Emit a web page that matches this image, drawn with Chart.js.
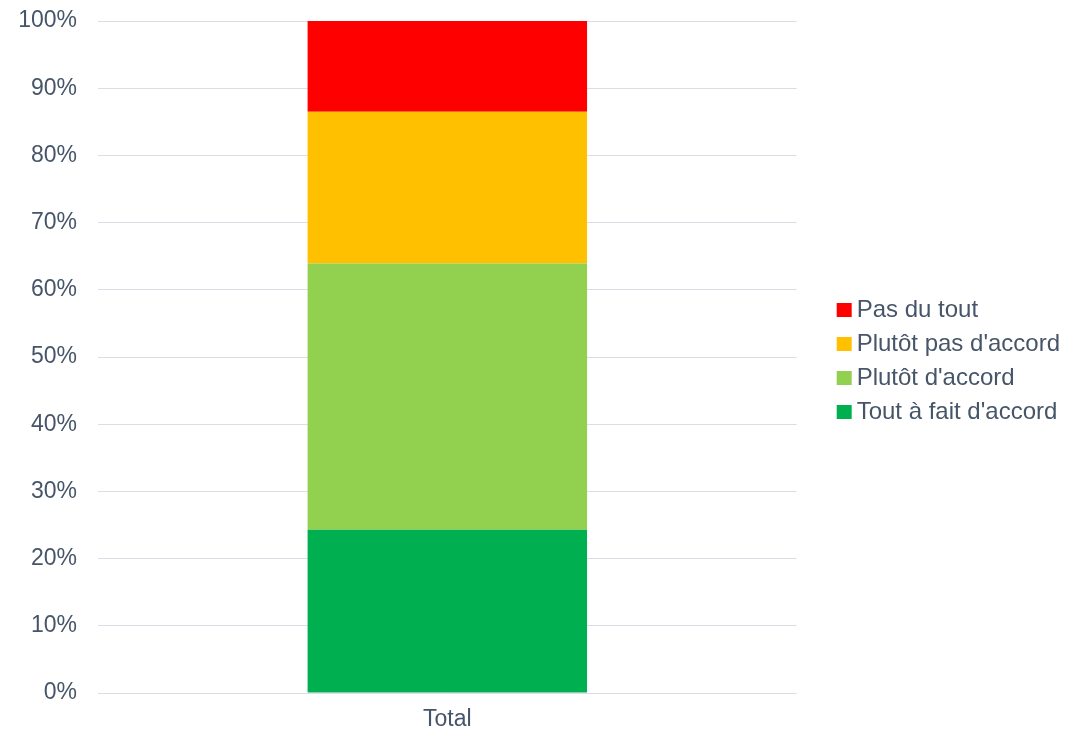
<!DOCTYPE html>
<html>
<head>
<meta charset="utf-8">
<script src="https://cdn.jsdelivr.net/npm/chart.js@4"></script>
<style>
  html, body { margin: 0; padding: 0; background: #fff; }
  #wrap { width: 1076px; height: 743px; }
</style>
</head>
<body>
<div id="wrap"><canvas id="chart"></canvas></div>
<script>
// data (percent of answers)
const categories = ['Total'];
const seriesNames = ["Tout à fait d'accord", "Plutôt d'accord", "Plutôt pas d'accord", 'Pas du tout'];
const toutAFait = [24.3];
const plutotAccord = [39.6];
const plutotPas = [22.6];
const pasDuTout = [13.5];
const seriesColors = ['#00B050', '#92D050', '#FFC000', '#FF0000'];
const yMax = 100;
const yStep = 10;

const textColor = '#475569';
const gridColor = '#d9dee7';
const fontFamily = "'Liberation Sans', Arial, sans-serif";

// legend swatch: small square drawn a bit right of the item start so text sits close to it
const SWATCH_SLOT = 38;
function makeSwatch(color) {
    const c = document.createElement('canvas');
    c.width = 100;
    c.height = 14;
    const g = c.getContext('2d');
    g.fillStyle = color;
    g.fillRect(50 - SWATCH_SLOT / 2 + 30, 0, 15, 14);
    return c;
}

const seriesValues = [toutAFait, plutotAccord, plutotPas, pasDuTout];

const ctx = document.getElementById('chart').getContext('2d');
new Chart(ctx, {
    type: 'bar',
    data: {
        labels: categories,
        datasets: seriesNames.map((name, i) => ({
            label: name,
            data: seriesValues[i],
            backgroundColor: seriesColors[i],
            borderWidth: 0,
            barPercentage: 0.4,
            categoryPercentage: 1.0
        }))
    },
    options: {
        responsive: true,
        maintainAspectRatio: false,
        animation: false,
        layout: {
            padding: { top: 21, left: 18, right: 6, bottom: 9 }
        },
        scales: {
            x: {
                stacked: true,
                grid: { display: false, drawTicks: false },
                border: { display: false },
                ticks: {
                    color: textColor,
                    padding: 13,
                    font: { family: fontFamily, size: 23 }
                },
                afterFit(scale) { scale.height = 41; }
            },
            y: {
                stacked: true,
                min: 0,
                max: yMax,
                grid: { color: gridColor, lineWidth: 1, drawTicks: false },
                border: { display: false },
                ticks: {
                    stepSize: yStep,
                    color: textColor,
                    padding: 21,
                    font: { family: fontFamily, size: 23 },
                    callback: v => v + '%'
                },
                afterFit(scale) {
                    scale.width = 80;
                    scale.paddingTop = 14;
                    scale.paddingBottom = 14;
                }
            }
        },
        plugins: {
            tooltip: { enabled: false },
            legend: {
                position: 'right',
                align: 'start',
                reverse: true,
                maxWidth: 320,
                title: {
                    display: true,
                    text: '',
                    font: { size: 10 },
                    padding: { top: 255, bottom: 0 }
                },
                labels: {
                    usePointStyle: true,
                    pointStyleWidth: SWATCH_SLOT,
                    boxHeight: 14,
                    padding: 10,
                    color: textColor,
                    font: { family: fontFamily, size: 24 },
                    generateLabels(chart) {
                        const items = Chart.defaults.plugins.legend.labels.generateLabels(chart);
                        items.forEach(it => {
                            it.pointStyle = makeSwatch(seriesColors[it.datasetIndex]);
                        });
                        return items;
                    }
                }
            }
        }
    }
});
</script>
</body>
</html>
